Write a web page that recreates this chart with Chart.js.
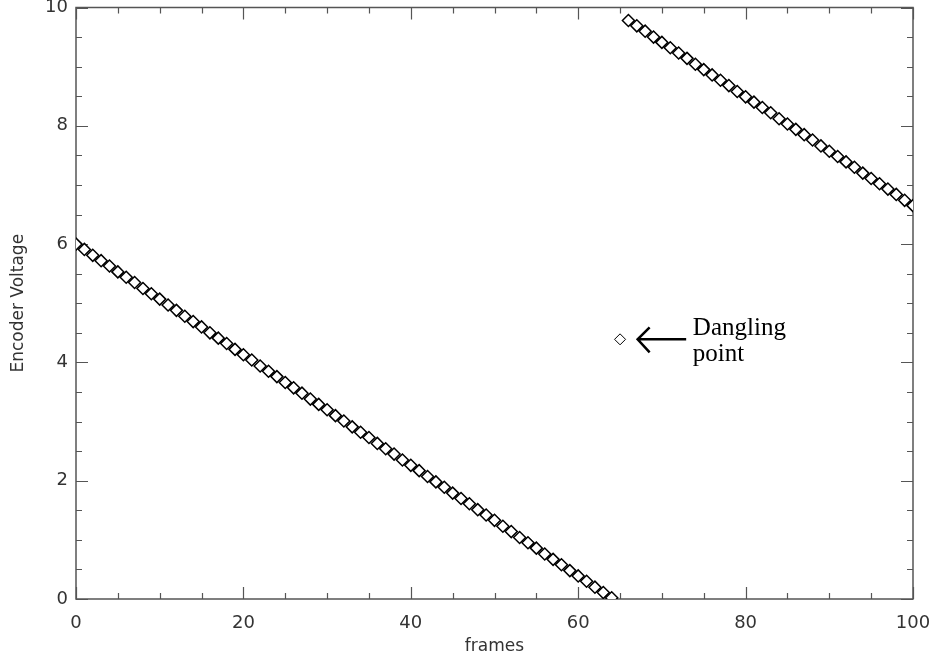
<!DOCTYPE html>
<html>
<head>
<meta charset="utf-8">
<script src="https://cdn.jsdelivr.net/npm/chart.js@4/dist/chart.umd.min.js"></script>
<style>
  html, body { margin: 0; padding: 0; background: #fff; }
  #chart { display: block; }
</style>
</head>
<body>
<canvas id="chart" width="933" height="657"></canvas>
<script>
// frames / voltages
const framesA = [0,1,2,3,4,5,6,7,8,9,10,11,12,13,14,15,16,17,18,19,20,21,22,23,24,25,26,27,28,29,30,31,32,
    33,34,35,36,37,38,39,40,41,42,43,44,45,46,47,48,49,50,51,52,53,54,55,56,57,58,59,60,61,62,63,64];
const voltsA = [6.00,5.91,5.81,5.72,5.63,5.53,5.44,5.35,5.25,5.16,5.07,4.97,4.88,4.78,4.69,4.60,4.50,4.41,4.32,
    4.22,4.13,4.04,3.94,3.85,3.76,3.66,3.57,3.48,3.38,3.29,3.20,3.10,3.01,2.91,2.82,2.73,2.63,2.54,2.45,2.35,
    2.26,2.17,2.07,1.98,1.89,1.79,1.70,1.61,1.51,1.42,1.33,1.23,1.14,1.04,0.95,0.86,0.76,0.67,0.58,0.48,0.39,
    0.30,0.20,0.11,0.02];
const framesB = [66,67,68,69,70,71,72,73,74,75,76,77,78,79,80,81,82,83,84,85,86,87,88,89,90,91,92,93,94,95,
    96,97,98,99,100];
const voltsB = [9.78,9.69,9.60,9.50,9.41,9.32,9.23,9.14,9.04,8.95,8.86,8.77,8.68,8.58,8.49,8.40,8.31,8.22,8.12,
    8.03,7.94,7.85,7.76,7.66,7.57,7.48,7.39,7.30,7.20,7.11,7.02,6.93,6.84,6.74,6.65];
const danglingFrame = [65];
const danglingVolt = [4.39];

const xMajorTicks = [0, 20, 40, 60, 80, 100];
const yMajorTicks = [0, 2, 4, 6, 8, 10];
const xMinorStep = 5;
const yMinorStep = 0.5;

// annotation (data units)
const noteLines = ['Dangling', 'point'];
const noteAt = { x: 73.7, y: [4.47, 4.03] };
const arrowAt = { x1: 72.9, x2: 67.1, y: 4.39 };

const toPoints = (xs, ys) => xs.map((x, i) => ({ x: x, y: ys[i] }));

const AXIS_GREY = '#555';
const TEXT_GREY = '#333';

// box round the plot + inward ticks on all four sides
const framePlugin = {
    id: 'frame',
    beforeDatasetsDraw(chart) {
        const { ctx, chartArea: a, scales: { x, y } } = chart;
        ctx.save();
        ctx.strokeStyle = AXIS_GREY;
        ctx.lineWidth = 1.5;
        ctx.strokeRect(a.left, a.top, a.right - a.left, a.bottom - a.top);
        ctx.lineWidth = 1.2;
        ctx.beginPath();
        for (let v = 0; v <= 100; v += xMinorStep) {
            const px = Math.round(x.getPixelForValue(v)) + 0.5;
            const len = xMajorTicks.includes(v) ? 12 : 6;
            ctx.moveTo(px, a.bottom); ctx.lineTo(px, a.bottom - len);
            ctx.moveTo(px, a.top); ctx.lineTo(px, a.top + len);
        }
        for (let v = 0; v <= 10; v += yMinorStep) {
            const py = Math.round(y.getPixelForValue(v)) + 0.5;
            const len = yMajorTicks.includes(v) ? 12 : 6;
            ctx.moveTo(a.left, py); ctx.lineTo(a.left + len, py);
            ctx.moveTo(a.right, py); ctx.lineTo(a.right - len, py);
        }
        ctx.stroke();
        ctx.restore();
    },
    afterDatasetsDraw(chart) {
        const { ctx, scales: { x, y } } = chart;
        ctx.save();
        // arrow
        const x1 = x.getPixelForValue(arrowAt.x1), x2 = x.getPixelForValue(arrowAt.x2);
        const ay = y.getPixelForValue(arrowAt.y);
        ctx.strokeStyle = '#000';
        ctx.lineWidth = 2.5;
        ctx.beginPath();
        ctx.moveTo(x1, ay); ctx.lineTo(x2, ay);
        ctx.moveTo(x2 + 12, ay - 12); ctx.lineTo(x2, ay); ctx.lineTo(x2 + 12, ay + 13);
        ctx.stroke();
        // text
        ctx.fillStyle = '#000';
        ctx.font = '25px "Liberation Serif", serif';
        ctx.textAlign = 'left';
        ctx.textBaseline = 'alphabetic';
        noteLines.forEach((t, i) => {
            ctx.fillText(t, x.getPixelForValue(noteAt.x), y.getPixelForValue(noteAt.y[i]));
        });
        ctx.restore();
    }
};

const tickFont = { family: '"DejaVu Sans", sans-serif', size: 18 };
const titleFont = { family: '"DejaVu Sans", sans-serif', size: 17 };

new Chart(document.getElementById('chart'), {
    type: 'scatter',
    data: {
        datasets: [
            { label: 'run 1', data: toPoints(framesA, voltsA), pointStyle: 'rectRot', pointRadius: 6,
              backgroundColor: '#fff', borderColor: '#000', borderWidth: 1.5 },
            { label: 'run 2', data: toPoints(framesB, voltsB), pointStyle: 'rectRot', pointRadius: 6,
              backgroundColor: '#fff', borderColor: '#000', borderWidth: 1.5 },
            { label: 'dangling', data: toPoints(danglingFrame, danglingVolt), pointStyle: 'rectRot', pointRadius: 5.5,
              backgroundColor: '#fff', borderColor: '#000', borderWidth: 1 }
        ]
    },
    options: {
        responsive: false,
        animation: false,
        events: [],
        layout: { padding: { top: 4, right: 20, left: 0, bottom: 0 } },
        plugins: { legend: { display: false }, tooltip: { enabled: false } },
        scales: {
            x: {
                type: 'linear', min: 0, max: 100,
                grid: { display: false, drawTicks: false },
                border: { display: false },
                ticks: { stepSize: 20, font: tickFont, color: TEXT_GREY, padding: 14, maxRotation: 0 },
                title: { display: true, text: 'frames', font: titleFont, color: TEXT_GREY, padding: { top: 4, bottom: 0 } },
                afterFit(s) { s.height = 58; s.paddingLeft = 0; s.paddingRight = 0; }
            },
            y: {
                type: 'linear', min: 0, max: 10,
                grid: { display: false, drawTicks: false },
                border: { display: false },
                ticks: { stepSize: 2, font: tickFont, color: TEXT_GREY, padding: 8 },
                title: { display: true, text: 'Encoder Voltage', font: titleFont, color: TEXT_GREY, padding: { top: 8, bottom: 6 } },
                afterFit(s) { s.width = 76; s.paddingTop = 0; s.paddingBottom = 0; }
            }
        }
    },
    plugins: [framePlugin]
});
</script>
</body>
</html>
